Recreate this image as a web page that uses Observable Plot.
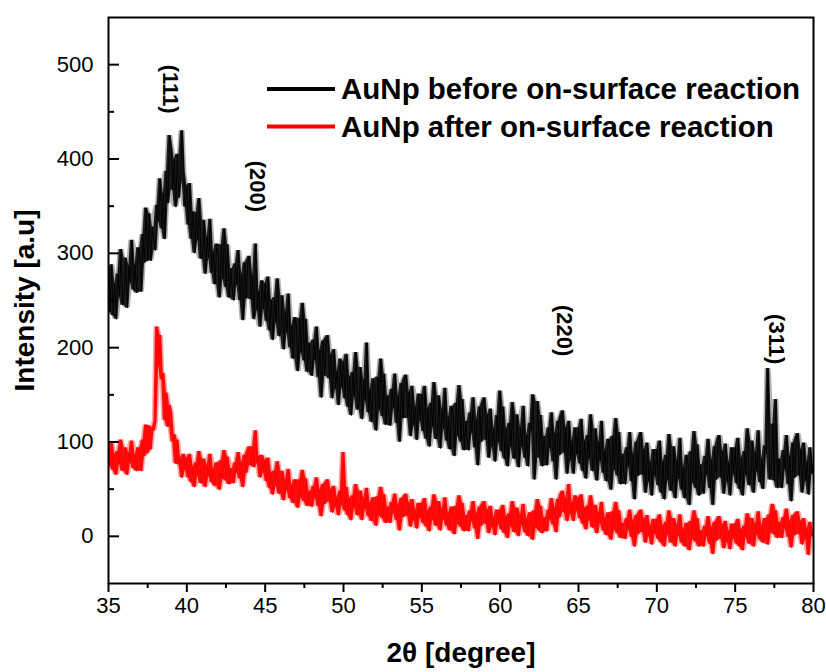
<!DOCTYPE html>
<html>
<head>
<meta charset="utf-8">
<script src="https://cdn.jsdelivr.net/npm/d3@7"></script>
<script src="https://cdn.jsdelivr.net/npm/@observablehq/plot@0.6"></script>
<style>
  html, body { margin: 0; padding: 0; background: #fff; }
  #chart svg { display: block; }
</style>
</head>
<body>
<div id="chart"></div>
<script>
// ---- data ----
const xStart = 35;     // first 2θ sample
const xStep = 0.1;     // 2θ sampling step

// AuNp before on-surface reaction (black), one row per degree 35.0 … 79.9, then 80.0
const beforeIntensity = [
  275,238,288,234,268,230,278,254,304,245,
  253,295,242,287,269,314,261,288,258,306,
  300,259,320,290,348,292,342,292,328,311,
  303,351,334,379,326,363,315,387,353,425,
  413,367,400,349,405,359,377,430,386,349,
  372,330,374,315,344,300,343,314,358,294,
  297,335,278,317,295,336,279,302,267,310,
  300,253,309,273,326,264,309,253,284,261,
  250,289,267,303,250,278,229,290,252,293,
  297,251,277,230,310,240,259,222,271,241,
  268,228,275,218,250,208,253,227,273,212,
  217,255,198,238,216,257,200,223,188,232,
  222,175,231,195,247,186,230,174,205,182,
  170,208,187,222,168,197,147,207,170,210,
  213,167,193,146,198,157,175,139,188,158,
  185,146,193,137,169,128,174,148,195,134,
  140,179,124,165,144,205,131,155,121,167,
  158,112,169,134,188,127,172,118,149,128,
  117,156,136,172,120,149,100,162,125,167,
  171,125,153,106,159,118,137,102,151,123,
  150,111,159,103,136,95,141,116,163,103,
  109,149,93,135,114,157,101,126,92,138,
  130,85,141,107,160,100,145,91,122,101,
  91,131,110,147,94,124,75,137,100,142,
  147,102,129,83,135,95,114,79,128,100,
  154,90,137,82,114,74,120,95,142,82,
  89,129,73,115,95,138,83,107,74,120,
  112,150,60,89,143,83,128,74,106,85,
  75,115,94,131,79,109,60,122,86,128,
  133,88,115,66,122,81,101,66,115,87,
  115,77,124,69,101,61,107,82,129,69,
  75,114,59,100,80,122,67,91,58,103,
  95,49,106,71,125,64,110,55,87,65,
  55,94,74,110,58,87,39,100,64,105,
  110,65,92,46,99,58,78,43,92,64,
  92,54,101,46,79,39,86,60,108,48,
  55,95,40,81,61,104,49,73,40,86,
  78,33,90,57,111,51,97,43,76,55,
  45,85,65,103,51,81,33,95,60,102,
  107,62,90,45,98,58,78,43,94,66,
  94,56,104,50,83,43,90,65,114,54,
  61,101,46,89,69,112,57,82,50,96,
  88,178,60,65,119,59,145,51,82,61,
  51,91,71,107,55,85,37,99,62,104,
  109,64,92,46,99,59,79,44,94,66,
  74
];

// AuNp after on-surface reaction (red)
const afterIntensity = [
  96,75,100,70,87,65,90,77,102,69,
  72,94,65,88,78,101,72,86,69,94,
  91,69,102,85,118,88,117,92,115,112,
  122,222,181,213,166,173,123,152,116,139,
  131,100,108,77,102,76,83,62,87,70,
  83,62,87,57,74,52,78,64,90,56,
  60,82,52,75,64,87,57,71,53,78,
  73,49,80,61,91,59,84,55,72,62,
  56,78,68,89,61,78,52,86,67,90,
  95,75,95,73,112,77,85,62,86,68,
  81,58,83,51,68,44,69,54,79,45,
  47,69,38,60,49,71,40,54,35,60,
  54,30,60,41,70,37,61,32,48,37,
  31,53,41,62,32,49,21,55,34,57,
  60,36,50,25,53,31,41,22,48,33,
  89,27,52,22,40,17,43,30,55,22,
  26,48,17,40,29,51,21,35,16,41,
  35,11,42,22,52,19,44,14,31,20,
  14,36,25,45,17,33,6,40,20,42,
  45,21,35,10,39,17,28,8,35,20,
  35,14,40,10,27,5,31,18,44,11,
  15,37,6,29,18,41,11,24,6,31,
  26,2,32,13,43,10,35,5,22,11,
  5,27,16,37,8,24,-3,31,11,34,
  37,13,28,3,32,10,20,1,28,13,
  28,7,33,3,21,-2,24,11,37,4,
  8,30,0,23,12,34,4,18,0,25,
  20,-4,27,9,39,6,32,3,20,10,
  5,28,18,40,12,30,4,39,20,44,
  48,25,40,16,55,24,35,16,43,27,
  41,19,44,13,30,7,32,18,43,9,
  12,33,3,25,14,36,6,19,1,25,
  20,-4,26,7,36,3,27,-2,14,3,
  -3,19,7,28,-1,16,-11,22,2,25,
  28,4,18,-7,22,0,11,-9,18,3,
  18,-3,23,-7,11,-11,15,2,27,-7,
  -3,19,-11,12,1,23,-7,7,-11,14,
  9,-15,16,-3,27,-6,19,-11,6,-5,
  -11,11,0,21,-8,9,-19,15,-5,18,
  21,-3,12,-13,16,-6,5,-14,13,-2,
  13,-8,18,-11,7,-15,11,-1,24,-8,
  -4,19,-11,13,2,26,-4,11,-7,19,
  15,-9,23,4,34,2,27,-2,15,4,
  -2,20,8,29,-1,16,-12,22,1,24,
  26,2,16,-9,19,-3,8,-20,15,0,
  3
];

// Miller-index peak annotations (2θ, intensity where the label sits)
const peakLabels = ["(111)", "(200)", "(220)", "(311)"];
const peakX = [38.96, 44.48, 64.07, 77.64];
const peakY = [474, 371, 218, 209];

const seriesNames = ["AuNp before on-surface reaction", "AuNp after on-surface reaction"];
const seriesColors = ["#000000", "#ff0000"];

const xTicks = [35, 40, 45, 50, 55, 60, 65, 70, 75, 80];
const xMinorTicks = [37.5, 42.5, 47.5, 52.5, 57.5, 62.5, 67.5, 72.5, 77.5];
const yTicks = [0, 100, 200, 300, 400, 500];
const yMinorTicks = [50, 150, 250, 350, 450];

const xLabel = "2θ [degree]";
const yLabel = "Intensity [a.u]";

// ---- tables built from the arrays ----
const toRows = arr => arr.map((v, i) => ({x: +(xStart + i * xStep).toFixed(1), y: v}));
const before = toRows(beforeIntensity);
const after = toRows(afterIntensity);
const peaks = peakLabels.map((t, i) => ({t, x: peakX[i], y: peakY[i]}));

// dense-band look: area between rolling min and max of neighbouring samples
const band = (data, k, color, op) => Plot.areaY(data, Plot.map(
  {y1: Plot.window({k, reduce: "min"}), y2: Plot.window({k, reduce: "max"})},
  {x: "x", y1: "y", y2: "y", fill: color, fillOpacity: op}
));

// ---- layout ----
const W = 826, H = 672;
const mL = 108, mR = 13, mT = 17, mB = 89;
const plotW = W - mL - mR;
const font = "'Liberation Sans', Arial, Helvetica, sans-serif";

const chart = Plot.plot({
  width: W,
  height: H,
  marginLeft: mL,
  marginRight: mR,
  marginTop: mT,
  marginBottom: mB,
  style: {fontFamily: font, background: "white", color: "black", overflow: "visible"},
  x: {domain: [35, 80]},
  y: {domain: [-50, 550]},
  marks: [
    band(before, 5, seriesColors[0], 0.3),
    band(before, 3, seriesColors[0], 0.85),
    Plot.line(before, {x: "x", y: "y", stroke: seriesColors[0], strokeWidth: 0.9}),
    band(after, 5, seriesColors[1], 0.35),
    band(after, 3, seriesColors[1], 0.9),
    Plot.line(after, {x: "x", y: "y", stroke: seriesColors[1], strokeWidth: 0.9}),
    Plot.text(peaks, {x: "x", y: "y", text: "t", rotate: 90, fontSize: 22, fontWeight: "bold", fill: "black"}),
    Plot.axisX(xTicks, {tickSize: 9, tickPadding: 5, fontSize: 22, label: null, strokeWidth: 2}),
    Plot.axisX(xMinorTicks, {tickSize: 5, fill: "none", label: null, strokeWidth: 2}),
    Plot.axisY(yTicks, {tickSize: 0, tickPadding: 15, fontSize: 22, label: null}),
    Plot.tickY(yTicks, {y: d => d, insetRight: plotW - 11, strokeWidth: 2, stroke: "black"}),
    Plot.tickY(yMinorTicks, {y: d => d, insetRight: plotW - 6, strokeWidth: 2, stroke: "black"}),
    Plot.frame({stroke: "black", strokeWidth: 2}),
    Plot.text([xLabel], {frameAnchor: "bottom", dy: 78, fontSize: 28, fontWeight: "bold", fill: "black"}),
    Plot.text([yLabel], {frameAnchor: "left", dx: -83, rotate: -90, textAnchor: "middle", fontSize: 28, fontWeight: "bold", fill: "black"})
  ]
});

// legend inside the plot area
const svg = d3.select(chart);
const lg = svg.append("g").attr("font-family", font).attr("text-anchor", "start");
seriesNames.forEach((name, i) => {
  const cy = 89 + i * 37.5;
  lg.append("line")
    .attr("x1", 267).attr("x2", 335).attr("y1", cy).attr("y2", cy)
    .attr("stroke", seriesColors[i]).attr("stroke-width", 4);
  lg.append("text")
    .attr("x", 341).attr("y", cy).attr("dy", "0.35em")
    .attr("text-anchor", "start")
    .attr("font-size", 29.5).attr("font-weight", "bold").attr("fill", "black")
    .text(name);
});

document.getElementById("chart").append(chart);
</script>
</body>
</html>
